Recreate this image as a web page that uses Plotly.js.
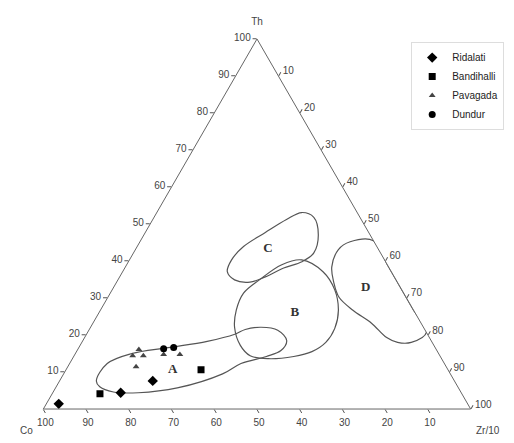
<!DOCTYPE html>
<html>
<head>
<meta charset="utf-8">
<script src="https://cdn.plot.ly/plotly-3.0.1.min.js"></script>
<style>
  html, body { margin: 0; padding: 0; background: #fff; }
  #chart { width: 514px; height: 443px; }
</style>
</head>
<body>
<div id="chart"></div>
<script>
// Th – Co – Zr/10 discrimination diagram (values in %, Co = 100 - Th - Zr/10)

// Sample groups: Th and Zr/10 for each analysed rock
const ridalatiTh = [1.4, 4.4, 7.6];
const ridalatiZr = [2.9, 15.9, 21.8];

const bandihalliTh = [4.1, 10.6];
const bandihalliZr = [11.2, 31.6];

const pavagadaTh = [14.4, 16.1, 14.4, 11.4, 14.7, 14.7];
const pavagadaZr = [13.7, 14.3, 16.2, 16.0, 20.8, 24.6];

const dundurTh = [16.3, 16.6];
const dundurZr = [20.0, 22.2];

// Tectonic setting field outlines (closed curves)
const fieldATh = [7.6, 12.3, 15.0, 16.6, 18.3, 20.2, 21.5, 22.1, 21.3, 18.5, 15.8, 14.2, 12.3, 9.5, 5.7, 4.4, 4.6, 6.0, 7.6];
const fieldAZr = [8.6, 8.8, 13.2, 20.9, 29.2, 34.7, 36.5, 39.9, 44.2, 47.7, 47.7, 45.1, 40.1, 37.2, 28.5, 20.0, 14.1, 10.2, 8.6];

const fieldBTh = [40.3, 37.1, 32.2, 26.7, 21.8, 18.0, 15.5, 14.2, 13.6, 14.4, 17.2, 22.1, 26.7, 31.3, 34.9, 39.0, 40.3];
const fieldBZr = [40.3, 46.9, 52.1, 55.7, 57.3, 57.1, 55.1, 51.5, 45.8, 41.2, 37.5, 33.7, 31.8, 31.2, 33.1, 36.3, 40.3];

const fieldCTh = [53.1, 51.8, 47.1, 42.2, 39.8, 38.1, 35.7, 34.3, 34.9, 37.1, 40.3, 43.9, 47.7, 51.2, 53.1];
const fieldCZr = [33.9, 37.4, 40.8, 42.2, 40.6, 37.2, 34.1, 31.2, 27.3, 24.5, 23.9, 24.9, 28.1, 31.3, 33.9];

const fieldDTh = [45.5, 45.2, 43.1, 38.4, 34.3, 30.2, 26.7, 23.2, 19.3, 18.0, 18.0, 20.7, 27.0, 33.0, 39.0, 45.5];
const fieldDZr = [54.5, 49.2, 47.5, 48.3, 50.8, 54.1, 59.1, 65.2, 70.7, 73.9, 77.1, 79.3, 73.0, 67.0, 61.0, 54.5];

// Field letters and where they sit
const fieldNames = ['A', 'B', 'C', 'D'];
const fieldLabelTh = [10.6, 25.9, 43.3, 32.7];
const fieldLabelZr = [25.0, 45.9, 30.9, 59.1];

const tickValues = [10, 20, 30, 40, 50, 60, 70, 80, 90, 100];

const outlineStyle = { color: '#555', width: 1.2, shape: 'spline', smoothing: 1 };

function outline(th, zr) {
  return {
    type: 'scatterternary', mode: 'lines',
    a: th, c: zr,
    line: outlineStyle,
    hoverinfo: 'skip', showlegend: false
  };
}

function group(name, th, zr, symbol, size, color) {
  return {
    type: 'scatterternary', mode: 'markers', name: name,
    a: th, c: zr,
    marker: { symbol: symbol, size: size, color: color, line: { width: 0 } }
  };
}

const traces = [
  outline(fieldATh, fieldAZr),
  outline(fieldBTh, fieldBZr),
  outline(fieldCTh, fieldCZr),
  outline(fieldDTh, fieldDZr),
  {
    type: 'scatterternary', mode: 'text',
    a: fieldLabelTh, c: fieldLabelZr, text: fieldNames,
    textfont: { family: 'Liberation Serif, serif', size: 13, color: '#333', weight: 'bold' },
    hoverinfo: 'skip', showlegend: false
  },
  group('Ridalati', ridalatiTh, ridalatiZr, 'diamond', 8, '#000'),
  group('Bandihalli', bandihalliTh, bandihalliZr, 'square', 7, '#000'),
  group('Pavagada', pavagadaTh, pavagadaZr, 'triangle-up', 6, '#444'),
  group('Dundur', dundurTh, dundurZr, 'circle', 7, '#000')
];

const axisStyle = {
  tickmode: 'array',
  tickvals: tickValues,
  ticks: 'outside',
  ticklen: 4,
  tickwidth: 1,
  tickcolor: '#555',
  showgrid: false,
  showline: true,
  linecolor: '#666',
  linewidth: 1,
  tickfont: { family: 'Liberation Sans, Arial, sans-serif', size: 10, color: '#444' }
};

const titleFont = { family: 'Liberation Sans, Arial, sans-serif', size: 10, color: '#444' };

const layout = {
  width: 514,
  height: 443,
  margin: { l: 0, r: 0, t: 0, b: 0 },
  paper_bgcolor: '#fff',
  font: { family: 'Liberation Sans, Arial, sans-serif', size: 10, color: '#333' },
  ternary: {
    sum: 100,
    bgcolor: '#fff',
    domain: { x: [0.03, 0.97], y: [0.0767, 0.912] },
    aaxis: Object.assign({}, axisStyle, { title: { text: 'Th', font: titleFont } }),
    baxis: Object.assign({}, axisStyle, { title: { text: 'Co', font: titleFont } }),
    caxis: Object.assign({}, axisStyle, { title: { text: 'Zr/10', font: titleFont } })
  },
  showlegend: true,
  legend: {
    x: 0.8, xanchor: 'left',
    y: 0.905, yanchor: 'top',
    bgcolor: 'rgba(255,255,255,0.9)',
    bordercolor: '#ddd', borderwidth: 1,
    font: { family: 'Liberation Sans, Arial, sans-serif', size: 10, color: '#222' },
    tracegroupgap: 0,
    itemwidth: 30
  }
};

Plotly.newPlot('chart', traces, layout, { displayModeBar: false, staticPlot: true });
</script>
</body>
</html>
